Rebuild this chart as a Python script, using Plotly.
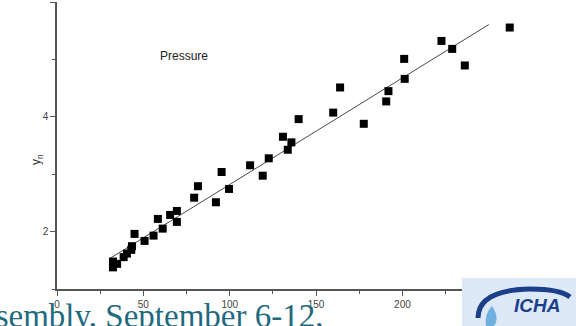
import plotly.graph_objects as go

# Data
pressure_x = [32.4, 32.4, 34.8, 38.6, 40.5, 43.0, 43.4, 44.9, 50.7, 55.9,
              58.4, 61.2, 65.5, 69.4, 69.4, 92.0, 79.4, 81.6, 95.3, 99.6,
              111.8, 119.1, 122.6, 130.8, 133.6, 135.7, 139.9, 159.9, 163.9, 177.6,
              190.6, 191.9, 201.0, 201.3, 222.6, 228.8, 236.1, 262.1]
pressure_y = [1.478, 1.377, 1.438, 1.555, 1.617, 1.682, 1.746, 1.960, 1.838, 1.930,
              2.221, 2.052, 2.290, 2.169, 2.360, 2.511, 2.591, 2.791, 3.038, 2.743,
              3.155, 2.974, 3.277, 3.652, 3.426, 3.555, 3.960, 4.073, 4.511, 3.878,
              4.268, 4.447, 5.009, 4.661, 5.322, 5.183, 4.894, 5.555]
fit_x = [30.9, 250.0]
fit_y = [1.537, 5.607]

x_ticks = [0, 50, 100, 150, 200, 250]
y_ticks = [2, 4, 6]

W, H = 576, 326
L, R, T, B = 57, 44, 2, 37
PW, PH = W - L - R, H - T - B


def px_x(p):
    return (p - L) / PW


def px_y(p):
    return (H - B - p) / PH


fig = go.Figure()
fig.add_trace(go.Scatter(x=fit_x, y=fit_y, mode="lines",
                         line=dict(color="#4a4a4a", width=1), showlegend=False))
fig.add_trace(go.Scatter(x=pressure_x, y=pressure_y, mode="markers",
                         marker=dict(symbol="square", size=8, color="black",
                                     line=dict(width=0)), showlegend=False))

axis_common = dict(showline=True, linecolor="#555555", linewidth=1.5,
                   ticks="outside", ticklen=5, tickwidth=1.2, tickcolor="#555555",
                   showgrid=False, zeroline=False, automargin=False,
                   tickfont=dict(family="Liberation Sans, Arial", size=10, color="#444444"))

fig.update_xaxes(range=[0, 275], tickvals=x_ticks,
                 minor=dict(dtick=25, tick0=0, ticks="outside", ticklen=3,
                            tickcolor="#555555", showgrid=False),
                 **axis_common)
fig.update_yaxes(range=[1, 6], tickvals=y_ticks,
                 minor=dict(dtick=1, tick0=0, ticks="outside", ticklen=3,
                            tickcolor="#555555", showgrid=False),
                 **axis_common)

annotations = [
    dict(text="Pressure", x=px_x(184), y=px_y(56), xref="paper", yref="paper",
         xanchor="center", yanchor="middle", showarrow=False,
         font=dict(family="Liberation Sans, Arial", size=12, color="#222222")),
    dict(text="y<sub>n</sub>", x=px_x(37), y=px_y(160), xref="paper", yref="paper",
         xanchor="center", yanchor="middle", showarrow=False, textangle=-90,
         font=dict(family="Liberation Sans, Arial", size=12, color="#333333")),
    dict(text="Assembly, September 6-12,", x=px_x(325), y=px_y(316), xref="paper", yref="paper",
         xanchor="right", yanchor="middle", showarrow=False,
         font=dict(family="Liberation Serif, serif", size=33, color="#1f6a7e")),
    dict(text="<b><i>ICHA</i></b>", x=px_x(512), y=px_y(305), xref="paper", yref="paper",
         xanchor="left", yanchor="middle", showarrow=False,
         font=dict(family="Liberation Sans, Arial", size=19, color="#1c3f8c")),
]

shapes = [
    dict(type="rect", xref="paper", yref="paper",
         x0=px_x(462), x1=px_x(578), y0=px_y(278), y1=px_y(328),
         fillcolor="#dde9f6", line=dict(width=0), layer="above"),
    dict(type="path", xref="paper", yref="paper",
         path=f"M {px_x(478)},{px_y(318)} Q {px_x(478)},{px_y(290)} {px_x(530)},{px_y(289)} "
              f"Q {px_x(560)},{px_y(289)} {px_x(570)},{px_y(297)}",
         line=dict(color="#1c3f8c", width=5), layer="above"),
    dict(type="path", xref="paper", yref="paper",
         path=f"M {px_x(492)},{px_y(306)} Q {px_x(500)},{px_y(318)} {px_x(494)},{px_y(326)} "
              f"L {px_x(486)},{px_y(326)} Q {px_x(484)},{px_y(314)} {px_x(492)},{px_y(306)} Z",
         fillcolor="#6fb0e0", line=dict(width=0), layer="above"),
]

fig.update_layout(width=W, height=H, margin=dict(l=L, r=R, t=T, b=B, autoexpand=False),
                  paper_bgcolor="white", plot_bgcolor="white",
                  annotations=annotations, shapes=shapes, showlegend=False)

fig.write_html("out.html", config={"displayModeBar": False},
               post_script="document.body.style.margin='0';document.body.style.overflow='hidden';")
